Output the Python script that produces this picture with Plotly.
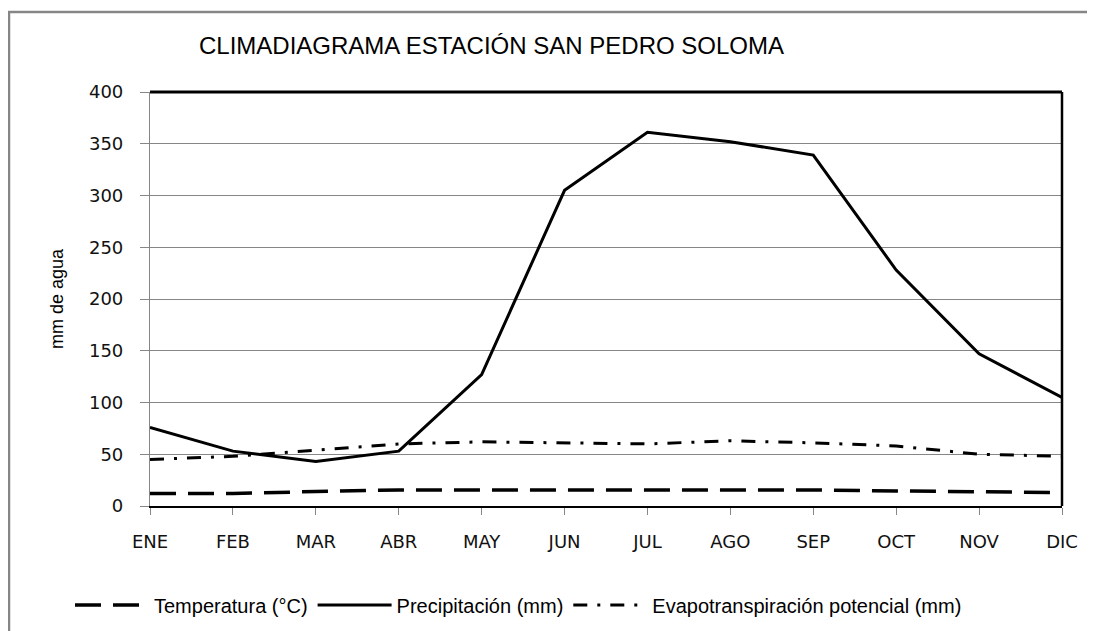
import plotly.graph_objects as go

meses = ["ENE", "FEB", "MAR", "ABR", "MAY", "JUN", "JUL", "AGO", "SEP", "OCT", "NOV", "DIC"]
temperatura = [12, 12, 14, 15.5, 15.5, 15.5, 15, 15.5, 15.5, 14.5, 13.5, 13]
precipitacion = [76, 53, 43, 53, 127, 305, 361, 352, 339, 228, 147, 105]
evapotranspiracion = [45, 48, 54, 60, 62, 61, 60, 63, 61, 58, 50, 48]

W, H = 1095, 631
OFF = 8  # page body margin
# plot-area edges in page pixels
L, R, T, B = 150, 1062, 92, 506


def px(x):
    return (x - L) / (R - L)


def py(y):
    return (B - y) / (B - T)


fig = go.Figure()
fig.add_trace(go.Scatter(x=meses, y=temperatura, mode="lines", name="Temperatura (°C)",
                         line=dict(color="black", width=3.5, dash="26px,12px")))
fig.add_trace(go.Scatter(x=meses, y=precipitacion, mode="lines", name="Precipitación (mm)",
                         line=dict(color="black", width=3)))
fig.add_trace(go.Scatter(x=meses, y=evapotranspiracion, mode="lines",
                         name="Evapotranspiración potencial (mm)",
                         line=dict(color="black", width=3, dash="14px,10px,3px,10px")))

fig.update_layout(
    width=W, height=H,
    margin=dict(l=L - OFF, r=W - (R - OFF), t=T - OFF, b=H - (B - OFF)),
    paper_bgcolor="white", plot_bgcolor="white",
    showlegend=True,
    legend=dict(orientation="h", x=px(70), xanchor="left", y=py(605), yanchor="middle",
                font=dict(family="Liberation Sans", size=20, color="black"),
                itemwidth=74, bgcolor="rgba(0,0,0,0)"),
    xaxis=dict(type="category", range=[0, 11], showgrid=False, showline=True,
               linecolor="black", linewidth=1.5, ticks="outside", ticklen=7, tickcolor="#868686",
               tickfont=dict(family="DejaVu Sans", size=18, color="#111111"),
               ticklabelstandoff=12, fixedrange=True),
    yaxis=dict(range=[0, 400], tickvals=[0, 50, 100, 150, 200, 250, 300, 350, 400],
               showgrid=True, gridcolor="#868686", gridwidth=1, zeroline=False,
               showline=True, linecolor="#868686", linewidth=1.2,
               ticks="outside", ticklen=9, tickcolor="#868686",
               tickfont=dict(family="DejaVu Sans", size=18, color="#111111"),
               ticklabelstandoff=13,
               title=dict(text="mm de agua", standoff=20,
                          font=dict(family="Liberation Sans", size=18, color="black")),
               fixedrange=True),
)

# Title
fig.add_annotation(text="CLIMADIAGRAMA ESTACIÓN SAN PEDRO SOLOMA", xref="paper", yref="paper",
                   x=px(197), y=py(46), xanchor="left", yanchor="middle", showarrow=False,
                   font=dict(family="Liberation Sans", size=24, color="black"))

# Plot area top & right black borders
fig.add_shape(type="line", xref="paper", yref="paper", x0=0, x1=1, y0=1, y1=1,
              line=dict(color="black", width=3))
fig.add_shape(type="line", xref="paper", yref="paper", x0=1, x1=1, y0=0, y1=1,
              line=dict(color="black", width=2.5))

# Outer chart frame
fig.add_shape(type="rect", xref="paper", yref="paper", x0=px(9), x1=px(1091), y0=py(645), y1=py(12),
              line=dict(color="#868686", width=2.5), fillcolor="rgba(0,0,0,0)", layer="below")

fig.write_html("out.html")
